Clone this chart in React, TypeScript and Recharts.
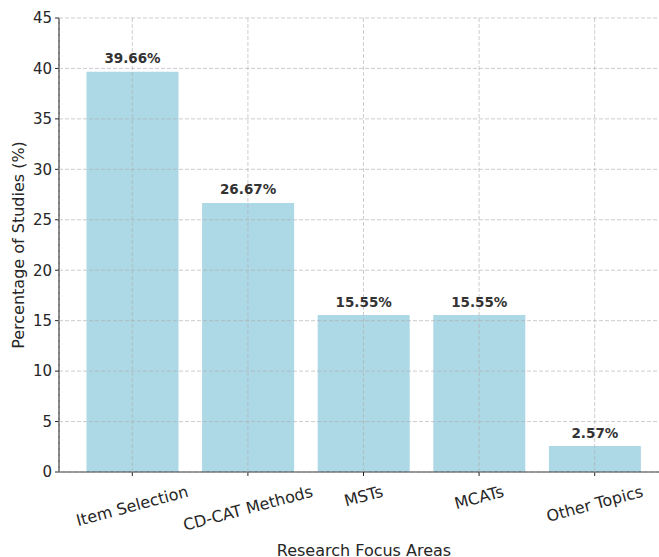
import React from "react";
import { BarChart, Bar, XAxis, YAxis, CartesianGrid, LabelList } from "recharts";

// Share of studies by research focus area
const categories = ["Item Selection", "CD-CAT Methods", "MSTs", "MCATs", "Other Topics"];
const percentages = [39.66, 26.67, 15.55, 15.55, 2.57];
const yTicks = [0, 5, 10, 15, 20, 25, 30, 35, 40, 45];

const data = categories.map((name, i) => ({ name, value: percentages[i] }));

const FONT = "'DejaVu Sans', Verdana, sans-serif";
const TEXT = "#262626";
const Y_TICK_SIZE = 15;
const X_TICK_SIZE = 16;
const ANGLE = 15;

let ctx: CanvasRenderingContext2D | null = null;
function measure(text: string, size: number): number {
  if (!ctx && typeof document !== "undefined") {
    ctx = document.createElement("canvas").getContext("2d");
  }
  if (!ctx) return text.length * size * 0.6;
  ctx.font = `${size}px 'DejaVu Sans'`;
  return ctx.measureText(text).width;
}

// Rotated category label whose rotated bounding box hangs centred below the tick
const RotatedTick = (props: any) => {
  const { x, y, payload } = props;
  const text = String(payload.value);
  const w = measure(text, X_TICK_SIZE);
  const h = X_TICK_SIZE * 1.17;
  const rad = (ANGLE * Math.PI) / 180;
  const boxH = w * Math.sin(rad) + h * Math.cos(rad);
  const cy = y + 4 + boxH / 2;
  return (
    <text
      x={x}
      y={cy}
      textAnchor="middle"
      dominantBaseline="central"
      fontFamily={FONT}
      fontSize={X_TICK_SIZE}
      fill={TEXT}
      transform={`rotate(${-ANGLE}, ${x}, ${cy})`}
    >
      {text}
    </text>
  );
};

const ValueLabel = (props: any) => {
  const { x, y, width, value } = props;
  return (
    <text
      x={x + width / 2}
      y={y - 8.5}
      textAnchor="middle"
      fontFamily={FONT}
      fontSize={13.5}
      fontWeight="bold"
      fill="#333333"
    >
      {`${Number(value).toFixed(2)}%`}
    </text>
  );
};

const YTitle = (props: any) => {
  const { viewBox } = props;
  const cx = viewBox.x + 18;
  const cy = viewBox.y + viewBox.height / 2;
  return (
    <text
      x={cx}
      y={cy}
      textAnchor="middle"
      dominantBaseline="central"
      fontFamily={FONT}
      fontSize={16}
      fill={TEXT}
      transform={`rotate(-90, ${cx}, ${cy})`}
    >
      Percentage of Studies (%)
    </text>
  );
};

const XTitle = (props: any) => {
  const { viewBox } = props;
  const cx = 364;
  const cy = viewBox.y + viewBox.height - 7;
  return (
    <text
      x={cx}
      y={cy}
      textAnchor="middle"
      dominantBaseline="central"
      fontFamily={FONT}
      fontSize={16}
      fill={TEXT}
    >
      Research Focus Areas
    </text>
  );
};

export default function App() {
  return (
    <div
      style={{
        position: "absolute",
        left: 0,
        top: 0,
        width: 659,
        height: 557,
        overflow: "hidden",
        background: "#ffffff",
      }}
    >
      <BarChart
        width={680}
        height={557}
        data={data}
        margin={{ top: 18, right: 12, bottom: 0, left: 0 }}
      >
        <XAxis
          dataKey="name"
          height={85}
          padding={{ left: 15.5, right: 15.5 }}
          tick={<RotatedTick />}
          tickLine={{ stroke: TEXT, strokeWidth: 1 }}
          tickSize={4}
          axisLine={{ stroke: TEXT, strokeWidth: 1.2 }}
          interval={0}
          label={<XTitle />}
        />
        <YAxis
          width={59}
          domain={[0, 45]}
          ticks={yTicks}
          interval={0}
          tickSize={4}
          tickMargin={3}
          tick={{ fontFamily: FONT, fontSize: Y_TICK_SIZE, fill: TEXT }}
          tickLine={{ stroke: TEXT, strokeWidth: 1 }}
          axisLine={{ stroke: TEXT, strokeWidth: 1.2 }}
          allowDataOverflow
          label={<YTitle />}
        />
        <Bar dataKey="value" fill="#add8e6" barSize={92} isAnimationActive={false}>
          <LabelList dataKey="value" content={<ValueLabel />} />
        </Bar>
        <CartesianGrid
          zIndex={500}
          stroke="#b0b0b0"
          strokeOpacity={0.7}
          strokeDasharray="4 2"
          strokeWidth={0.9}
        />
      </BarChart>
    </div>
  );
}
